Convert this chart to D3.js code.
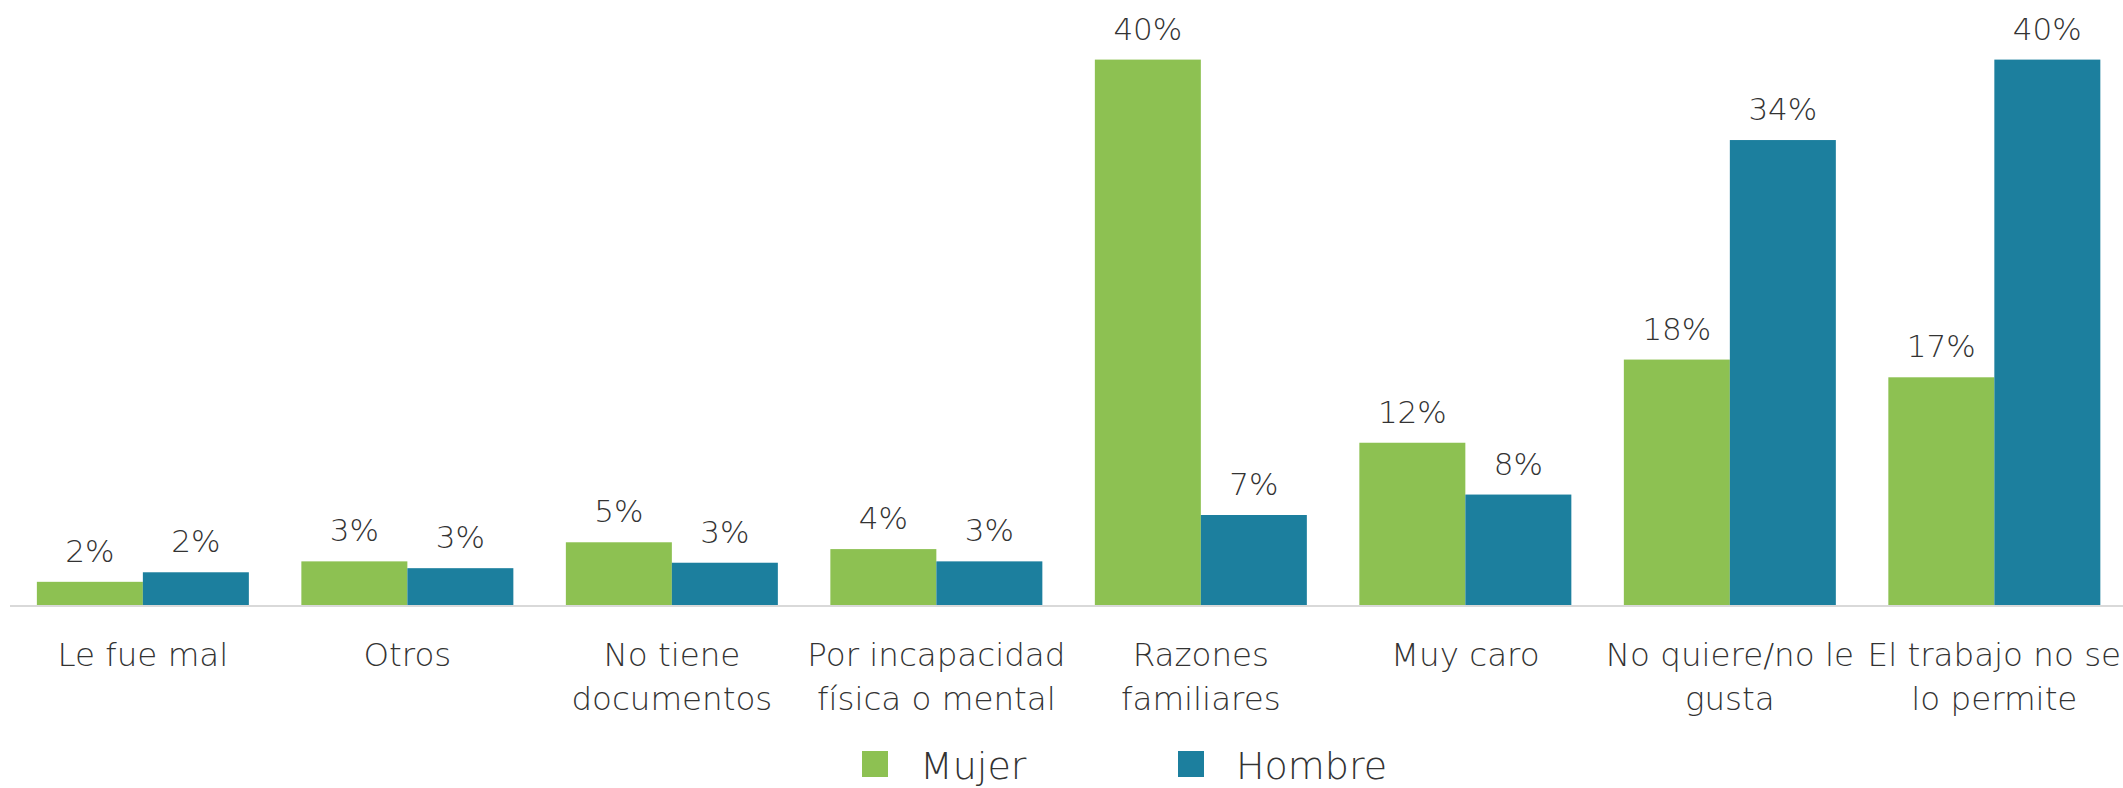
<!DOCTYPE html>
<html>
<head>
<meta charset="utf-8">
<script src="https://cdn.jsdelivr.net/npm/d3@7"></script>
<style>
  html, body { margin: 0; padding: 0; background: #ffffff; }
  svg { display: block; }
  text { font-family: "DejaVu Sans", "Open Sans", sans-serif; font-weight: 200; fill: #333333; }
</style>
</head>
<body>
<svg id="chart" width="2123" height="788"></svg>
<script>
const categories = [
  "Le fue mal",
  "Otros",
  "No tiene\ndocumentos",
  "Por incapacidad\nfísica o mental",
  "Razones\nfamiliares",
  "Muy caro",
  "No quiere/no le\ngusta",
  "El trabajo no se\nlo permite"
];
const seriesNames = ["Mujer", "Hombre"];
const mujer  = [1.7, 3.2, 4.6, 4.1, 40.0, 11.9, 18.0, 16.7];
const hombre = [2.4, 2.7, 3.1, 3.2, 6.6, 8.1, 34.1, 40.0];
const colors = ["#8dc152", "#1c7f9e"];

const W = 2123, H = 788;
const svg = d3.select("#chart");

const x0 = d3.scaleBand().domain(d3.range(categories.length)).range([10.6, 2126.6]).paddingInner(0.1985).paddingOuter(0.0993);
const x1 = d3.scaleBand().domain(seriesNames).range([0, x0.bandwidth()]);
const y = d3.scaleLinear().domain([0, 40]).range([605, 59.6]);
const fmt = v => d3.format(".0f")(v) + "%";

const data = categories.map((c, i) => ({ i, values: [mujer[i], hombre[i]] }));

const groups = svg.append("g").selectAll("g").data(data).join("g")
  .attr("transform", d => `translate(${x0(d.i)},0)`);

groups.selectAll("rect").data(d => d.values.map((v, k) => ({ k, v }))).join("rect")
  .attr("x", d => x1(seriesNames[d.k]))
  .attr("y", d => y(d.v))
  .attr("width", x1.bandwidth())
  .attr("height", d => y(0) - y(d.v))
  .attr("fill", d => colors[d.k]);

groups.selectAll("text.val").data(d => d.values.map((v, k) => ({ k, v }))).join("text")
  .attr("class", "val")
  .attr("x", d => x1(seriesNames[d.k]) + x1.bandwidth() / 2)
  .attr("y", d => y(d.v) - 20)
  .attr("text-anchor", "middle")
  .style("font-size", "31px")
  .text(d => fmt(d.v));

// axis line
svg.append("line")
  .attr("x1", 10).attr("x2", W).attr("y1", y(0) + 1).attr("y2", y(0) + 1)
  .attr("stroke", "#d9d9d9").attr("stroke-width", 2);

// category labels
const cl = svg.append("g").selectAll("text").data(categories).join("text")
  .attr("text-anchor", "middle")
  .attr("x", (d, i) => x0(i) + x0.bandwidth() / 2)
  .attr("y", 666)
  .style("font-size", "32.5px");
cl.each(function (d) {
  const lines = d.split("\n");
  d3.select(this).selectAll("tspan").data(lines).join("tspan")
    .attr("x", d3.select(this).attr("x"))
    .attr("dy", (l, j) => j === 0 ? 0 : 44)
    .text(l => l);
});

// legend
const legendX = [862, 1178];
const lg = svg.append("g").selectAll("g").data(seriesNames).join("g")
  .attr("transform", (d, i) => `translate(${legendX[i]},751)`);
lg.append("rect").attr("width", 26).attr("height", 26).attr("fill", (d, i) => colors[i]);
lg.append("text").attr("x", 58).attr("y", 28).style("font-size", "38px").text(d => d);
</script>
</body>
</html>
